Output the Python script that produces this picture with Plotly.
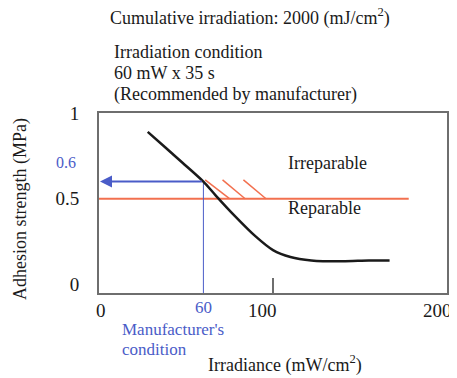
import plotly.graph_objects as go

# ---- data ----
curve_x = [28, 38, 48, 60, 67, 78, 90, 100, 110, 122, 140, 155, 167]
curve_y = [0.89, 0.80, 0.71, 0.60, 0.52, 0.40, 0.28, 0.20, 0.16, 0.14, 0.135, 0.14, 0.14]
threshold_y = 0.5
threshold_x = [0, 178]
manuf_x = 60
manuf_y = 0.6
hatch_x0 = [61, 71, 83]
hatch_x1 = [75, 84, 96]
hatch_y0 = 0.61
hatch_y1 = 0.5
x_ticks = [0, 100, 200]
x_ticktext = ["0", "100", "200"]
y_ticks = [0, 0.5, 1]
y_ticktext = ["0", "0.5", "1"]

FONT = "Liberation Serif"
BLUE = "#4a5cc8"
RED = "#f2704f"
TXT = "#1a1a1a"

# plot-area edges in the reference picture (pixels)
L, R, T, B = 99, 447, 113, 293
PAGE = 8  # default body margin of the html page
W, H = 457 - PAGE, 378 - PAGE
X_LABEL_SHIFT = [2, -11, -10]


def px(x):
    return (x - L) / (R - L)


def py(y):
    return (B - y) / (B - T)


fig = go.Figure()

fig.add_trace(go.Scatter(x=threshold_x, y=[threshold_y] * 2, mode="lines",
                         line=dict(color=RED, width=2), hoverinfo="skip"))
for a, b in zip(hatch_x0, hatch_x1):
    fig.add_trace(go.Scatter(x=[a, b], y=[hatch_y0, hatch_y1], mode="lines",
                             line=dict(color=RED, width=1.5), hoverinfo="skip"))
fig.add_trace(go.Scatter(x=[manuf_x, manuf_x], y=[-0.05, manuf_y], mode="lines",
                         line=dict(color=BLUE, width=1), hoverinfo="skip"))
fig.add_trace(go.Scatter(x=curve_x, y=curve_y, mode="lines",
                         line=dict(color="#1a1a1a", width=2.5, shape="spline", smoothing=0.8),
                         hoverinfo="skip"))


def txt(x, y, s, size=18, color=TXT, anchor="left", **kw):
    return dict(x=px(x), y=py(y), xref="paper", yref="paper", text=s,
                showarrow=False, font=dict(family=FONT, size=size, color=color),
                xanchor=anchor, yanchor="middle", **kw)


ann = []
ann.append(dict(x=0, y=manuf_y, ax=manuf_x, ay=manuf_y, xref="x", yref="y",
                axref="x", ayref="y", text="", showarrow=True, arrowhead=2,
                arrowsize=1.2, arrowwidth=2, arrowcolor=BLUE, standoff=1))
ann.append(txt(66, 162, "0.6", size=16, color=BLUE, anchor="center"))
ann.append(dict(x=manuf_x, y=py(307), xref="x", yref="paper", text=str(manuf_x),
                showarrow=False, font=dict(family=FONT, size=17, color=BLUE),
                xanchor="center", yanchor="middle"))
# x tick labels
for v, t, s in zip(x_ticks, x_ticktext, X_LABEL_SHIFT):
    ann.append(dict(x=v, y=py(310), xref="x", yref="paper", text=t, xshift=s,
                    showarrow=False, font=dict(family=FONT, size=19, color=TXT),
                    xanchor="center", yanchor="middle"))
ann.append(txt(120, 329, "Manufacturer's", size=17, color=BLUE))
ann.append(txt(120, 349, "condition", size=17, color=BLUE))
ann.append(txt(286, 163, "Irreparable", size=18))
ann.append(txt(286, 208, "Reparable", size=18))
ann.append(txt(108, 17, "Cumulative irradiation: 2000 (mJ/cm<sup>2</sup>)", size=18))
ann.append(txt(112, 52, "Irradiation condition", size=18))
ann.append(txt(112, 73, "60 mW x 35 s", size=18))
ann.append(txt(112, 95, "(Recommended by manufacturer)", size=18))
ann.append(txt(285, 364, "Irradiance (mW/cm<sup>2</sup>)", size=18, anchor="center"))
ann.append(txt(20, 209, "Adhesion strength (MPa)", size=18, anchor="center", textangle=-90))

fig.update_layout(
    width=W, height=H,
    margin=dict(l=L - PAGE, r=W - (R - PAGE), t=T - PAGE, b=H - (B - PAGE), pad=0,
                autoexpand=False),
    paper_bgcolor="white", plot_bgcolor="white",
    showlegend=False,
    annotations=ann,
    font=dict(family=FONT, size=18, color=TXT),
)
fig.update_xaxes(range=[0, 200], tickvals=x_ticks, showticklabels=False,
                 showgrid=False, zeroline=False, showline=True, mirror=True,
                 linecolor="#6e6e6e", linewidth=2, ticks="inside", ticklen=15,
                 tickcolor="#6e6e6e", tickwidth=1.5, automargin=False)
fig.update_yaxes(range=[-0.05, 1.0], tickvals=y_ticks, ticktext=y_ticktext,
                 showgrid=False, zeroline=False, showline=True, mirror=True,
                 linecolor="#6e6e6e", linewidth=2, ticks="",
                 ticklabelstandoff=14, automargin=False,
                 tickfont=dict(family=FONT, size=19, color=TXT))

fig.write_html("out.html")
